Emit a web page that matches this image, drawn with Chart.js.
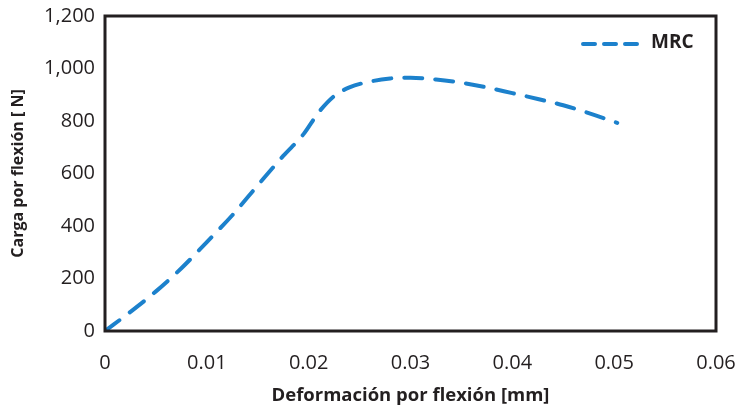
<!DOCTYPE html>
<html>
<head>
<meta charset="utf-8">
<script src="https://cdn.jsdelivr.net/npm/chart.js@4.4.1/dist/chart.umd.min.js"></script>
<style>
  html, body { margin: 0; padding: 0; background: #fff; }
  #wrap { width: 739px; height: 409px; }
</style>
</head>
<body>
<div id="wrap"><canvas id="flexChart" width="739" height="409"></canvas></div>
<script>
// deformation [mm] and load [N]
const deformacion = [0, 0.0025, 0.005, 0.0075, 0.01, 0.0125, 0.015, 0.0175, 0.0195, 0.021, 0.0225, 0.024, 0.026, 0.028, 0.03, 0.0325, 0.035, 0.0375, 0.04, 0.0425, 0.045, 0.0475, 0.0503];
const carga = [0, 73, 151, 239, 339, 441, 555, 667, 750, 834, 895, 928, 950, 962, 965, 958, 946, 928, 906, 884, 860, 830, 793];
const serieLabel = 'MRC';
const xTicks = [0, 0.01, 0.02, 0.03, 0.04, 0.05, 0.06];

const ink = '#231f20';
const blue = '#1c81cc';
const tickFont = { family: 'Open Sans', size: 20 };

// black frame round the plot area
const framePlugin = {
  id: 'frame',
  afterDatasetsDraw(chart) {
    const { ctx, chartArea: a } = chart;
    ctx.save();
    ctx.strokeStyle = ink;
    ctx.lineWidth = 3;
    ctx.strokeRect(a.left, a.top, a.right - a.left, a.bottom - a.top);
    ctx.restore();
  }
};

// legend drawn inside the plot, top right
const innerLegend = {
  id: 'innerLegend',
  afterDraw(chart) {
    const { ctx } = chart;
    const ds = chart.data.datasets[0];
    ctx.save();
    ctx.strokeStyle = ds.borderColor;
    ctx.lineWidth = ds.borderWidth;
    ctx.lineCap = 'round';
    ctx.setLineDash([12, 9]);
    ctx.beginPath();
    ctx.moveTo(583, 44);
    ctx.lineTo(637, 44);
    ctx.stroke();
    ctx.setLineDash([]);
    ctx.fillStyle = ink;
    ctx.font = 'bold 19px "Open Sans"';
    ctx.textBaseline = 'middle';
    ctx.fillText(ds.label, 651, 43);
    ctx.restore();
  }
};

new Chart(document.getElementById('flexChart'), {
  type: 'line',
  data: {
    datasets: [{
      label: serieLabel,
      data: deformacion.map((x, i) => ({ x, y: carga[i] })),
      borderColor: blue,
      borderWidth: 4,
      borderDash: [18, 13],
      borderCapStyle: 'round',
      cubicInterpolationMode: 'monotone',
      pointRadius: 0,
      fill: false
    }]
  },
  options: {
    responsive: false,
    animation: false,
    layout: { padding: { left: 0, top: 16, right: 23, bottom: 0 } },
    plugins: { legend: { display: false }, tooltip: { enabled: false } },
    scales: {
      x: {
        type: 'linear',
        min: 0,
        max: 0.06,
        afterBuildTicks: s => { s.ticks = xTicks.map(v => ({ value: v })); },
        afterFit: s => { s.height = 78; s.paddingLeft = 0; s.paddingRight = 0; },
        grid: { display: false, drawTicks: false },
        border: { display: false },
        ticks: {
          color: ink,
          font: tickFont,
          padding: 20,
          maxRotation: 0,
          callback: v => String(Number(v.toFixed(2)))
        },
        title: {
          display: true,
          text: 'Deformación por flexión [mm]',
          color: ink,
          font: { family: 'Open Sans', size: 18.5, weight: 'bold' },
          padding: { top: 0, bottom: 2 }
        }
      },
      y: {
        min: 0,
        max: 1200,
        afterFit: s => { s.width = 105; s.paddingTop = 0; s.paddingBottom = 0; },
        grid: { display: false, drawTicks: false },
        border: { display: false },
        ticks: {
          stepSize: 200,
          color: ink,
          font: tickFont,
          padding: 10,
          callback: v => v.toLocaleString('en-US')
        },
        title: {
          display: true,
          text: 'Carga por flexión [ N]',
          color: ink,
          font: { family: 'Open Sans', size: 16, weight: 'bold' },
          padding: { top: 9, bottom: 0 }
        }
      }
    }
  },
  plugins: [framePlugin, innerLegend]
});
</script>
</body>
</html>
